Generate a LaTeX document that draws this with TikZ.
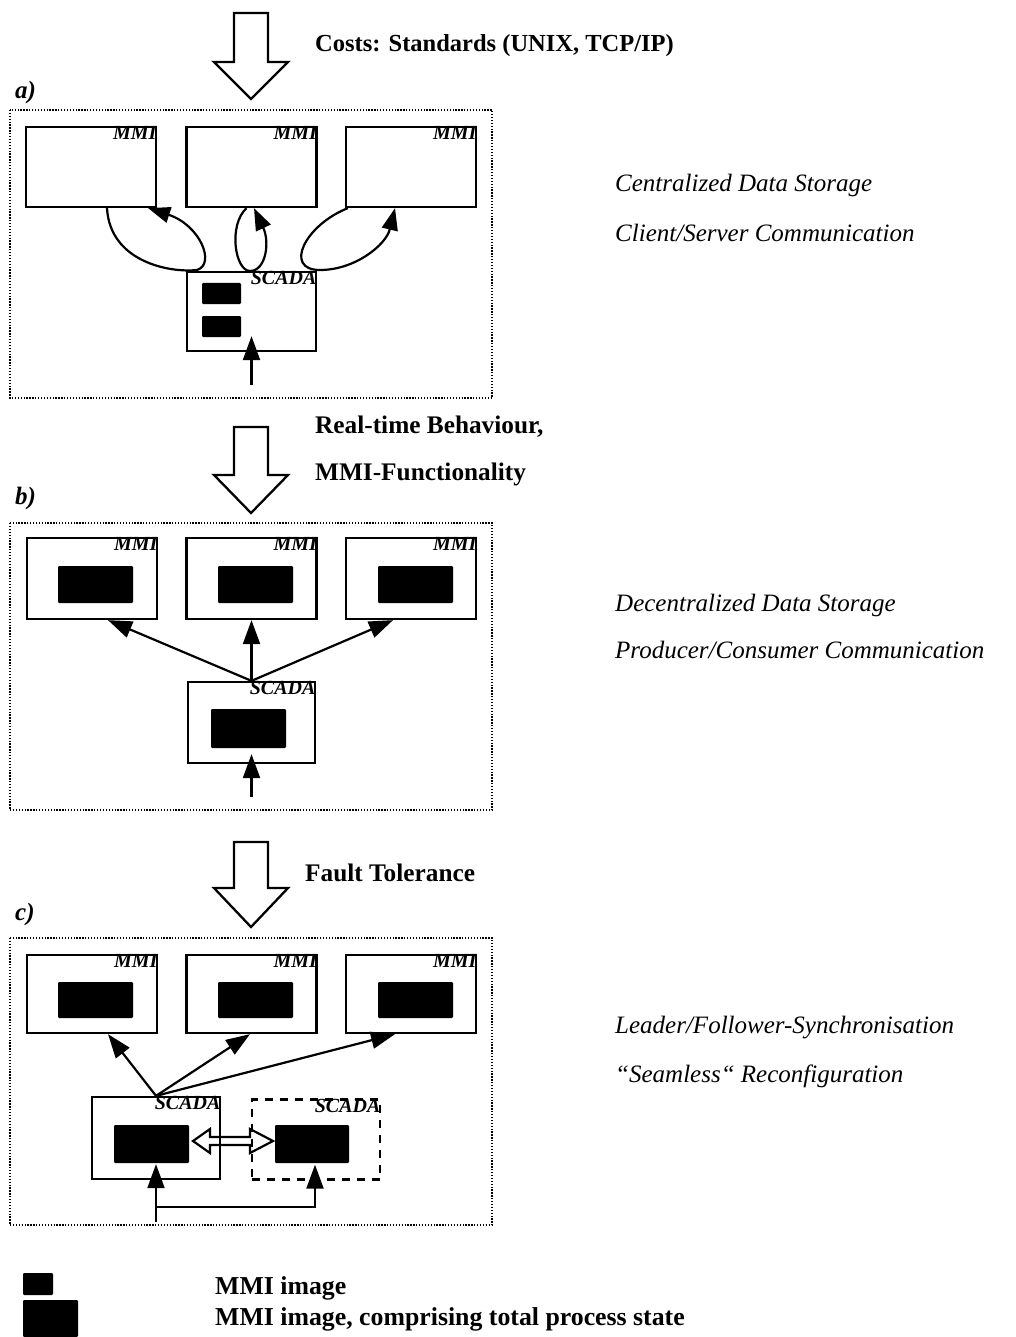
\documentclass[tikz,border=0pt]{standalone}
\usepackage{fontspec}
\setmainfont{Liberation Serif}
\usetikzlibrary{arrows.meta}
\begin{document}
\begin{tikzpicture}[x=1pt,y=-1pt,
  mmibox/.style={draw, line width=2.3pt, rectangle, inner sep=0pt, minimum width=130pt, minimum height=80pt},
  scadabox/.style={mmibox, minimum width=128pt, minimum height=80pt},
  img/.style={fill=black, rounded corners=1.2pt, inner sep=0pt, minimum width=75pt, minimum height=37pt},
  smallimg/.style={img, minimum width=39pt, minimum height=21pt},
  tag/.style={font=\fontsize{20}{21}\selectfont\bfseries\itshape, inner sep=0.5pt, anchor=north east},
  panel/.style={draw, line width=1.6pt, dash pattern=on 1.3pt off 1.6pt},
  bigarrow/.style={draw, line width=2.3pt, fill=white, line join=miter},
  conn/.style={line width=2.2pt, -{Triangle[length=24pt,width=17pt]}},
  loopconn/.style={line width=2.2pt, -{Triangle[length=22pt,width=16pt]}},
  head/.style={font=\fontsize{24.5}{28}\selectfont\bfseries, inner sep=0pt, anchor=base west},
  headb/.style={head, font=\fontsize{25.3}{28}\selectfont\bfseries},
  side/.style={font=\fontsize{25}{28}\selectfont\itshape, inner sep=0pt, anchor=base west},
  plabel/.style={font=\fontsize{25}{28}\selectfont\bfseries\itshape, inner sep=0pt, anchor=base west},
  legtext/.style={font=\fontsize{25.8}{28}\selectfont\bfseries, inner sep=0pt, anchor=base west}
]
\useasboundingbox (0,0) rectangle (1015,1337);

% ================= panel a =================
\draw[bigarrow] (234,13) -- (268,13) -- (268,62) -- (288,62) -- (251,99) -- (214,62) -- (234,62) -- cycle;
\node[head] (ta) at (315,52) {Costs: Standards (UNIX, TCP/IP)};
\node[plabel] (la) at (15,99) {a)};
\draw[panel] (10,110) rectangle (492,398);

\node[mmibox] (a1) at (91,167) {};
\node[mmibox] (a2) at (251.5,167) {};
\node[mmibox] (a3) at (411,167) {};
\node[tag] at (a1.north east) {MMI};
\node[tag] at (a2.north east) {MMI};
\node[tag] at (a3.north east) {MMI};

\node[scadabox, minimum width=129pt, minimum height=79pt] (as) at (251.5,311.5) {};
\node[tag] at (as.north east) {SCADA};
\node[smallimg] (ai1) at (221.5,293.5) {};
\node[smallimg] (ai2) at (221.5,326.5) {};

\draw[loopconn] ([xshift=16pt]a1.south) .. controls (110,262) and (170,273) .. (197,270)
   .. controls (216,264) and (200,225) .. ([xshift=-9pt]a1.south east);
\draw[loopconn] ([xshift=-5pt]a2.south) .. controls (228,225) and (235,271) .. (250,271)
   .. controls (266,271) and (270,242) .. ([xshift=2.5pt]a2.south);
\draw[loopconn] ([xshift=3pt]a3.south west) .. controls (305,225) and (283,270) .. (320,270)
   .. controls (355,270) and (386,245) .. ([xshift=-16pt]a3.south);

\coordinate (ain) at (251.5,385);
\draw[conn] (ain) -- ([yshift=16pt]as.south);

\node[side] (sa1) at (615,192) {Centralized Data Storage};
\node[side] (sa2) at (615,242) {Client/Server Communication};

% ================= panel b =================
\draw[bigarrow] (234,427) -- (268,427) -- (268,475) -- (288,475) -- (251,513) -- (214,475) -- (234,475) -- cycle;
\node[headb] (tb1) at (315,433) {Real-time Behaviour,};
\node[headb] (tb2) at (315,480) {MMI-Functionality};
\node[plabel] (lb) at (15,504) {b)};
\draw[panel] (10,523) rectangle (492,810);

\node[mmibox, minimum height=81pt] (b1) at (92,578.5) {};
\node[mmibox, minimum height=81pt] (b2) at (251.5,578.5) {};
\node[mmibox, minimum height=81pt] (b3) at (411,578.5) {};
\node[tag] at (b1.north east) {MMI};
\node[tag] at (b2.north east) {MMI};
\node[tag] at (b3.north east) {MMI};
\node[img] (bi1) at (95.5,584.5) {};
\node[img] (bi2) at (255.5,584.5) {};
\node[img] (bi3) at (415.5,584.5) {};

\node[scadabox, minimum width=127pt, minimum height=81pt] (bs) at (251.5,722.5) {};
\node[tag] at (bs.north east) {SCADA};
\node[img, minimum height=39pt] (bsi) at (248.5,728.5) {};

\draw[conn] (bs.north) -- ([xshift=16pt]b1.south);
\draw[conn] (bs.north) -- (b2.south);
\draw[conn] (bs.north) -- ([xshift=-18pt]b3.south);
\coordinate (bin) at (251.5,797);
\draw[conn] (bin) -- ([yshift=10pt]bs.south);

\node[side] (sb1) at (615,611) {Decentralized Data Storage};
\node[side] (sb2) at (615,658) {Producer/Consumer Communication};

% ================= panel c =================
\draw[bigarrow] (234,842) -- (268,842) -- (268,888) -- (288,888) -- (251,927) -- (214,888) -- (234,888) -- cycle;
\node[headb] (tc) at (305,881) {Fault Tolerance};
\node[plabel] (lc) at (15,920) {c)};
\draw[panel] (10,938) rectangle (492,1225);

\node[mmibox, minimum height=78pt] (c1) at (92,994) {};
\node[mmibox, minimum height=78pt] (c2) at (251.5,994) {};
\node[mmibox, minimum height=78pt] (c3) at (411,994) {};
\node[tag] at (c1.north east) {MMI};
\node[tag] at (c2.north east) {MMI};
\node[tag] at (c3.north east) {MMI};
\node[img, minimum height=36pt] (ci1) at (95.5,1000) {};
\node[img, minimum height=36pt] (ci2) at (255.5,1000) {};
\node[img, minimum height=36pt] (ci3) at (415.5,1000) {};

% hollow double arrow between the two SCADA images
\draw[line width=2.2pt, fill=white, line join=miter]
  (193,1141) -- (210,1129) -- (210,1137) -- (250,1137) -- (250,1129) -- (273,1141)
  -- (250,1153) -- (250,1145) -- (210,1145) -- (210,1153) -- cycle;

\node[scadabox, minimum width=128pt, minimum height=82pt] (s1) at (156,1138) {};
\node[tag] at (s1.north east) {SCADA};
\node[img, minimum height=38pt] (s1i) at (151.5,1144) {};
\node[scadabox, minimum width=128pt, minimum height=80pt, dash pattern=on 8pt off 7pt] (s2) at (316,1139.5) {};
\node[tag] at (s2.north east) {SCADA};
\node[img, minimum width=74pt, minimum height=38pt] (s2i) at (312,1144) {};

\draw[conn] (s1.north) -- ([xshift=16pt]c1.south);
\draw[conn] (s1.north) -- ([xshift=-1.5pt]c2.south);
\draw[conn] (s1.north) -- ([xshift=-16pt]c3.south);

\coordinate (cin) at (156,1222);
\coordinate (cj) at (156,1207);
\draw[conn] (cin) -- ([yshift=16pt]s1.south);
\draw[conn] (cj) -| ([yshift=16pt,xshift=-1pt]s2.south);

\node[side] (sc1) at (615,1033) {Leader/Follower-Synchronisation};
\node[side] (sc2) at (615,1082) {“Seamless“ Reconfiguration};

% ================= legend =================
\node[smallimg, minimum width=30pt, minimum height=22pt] (lg1) at (38,1284) {};
\node[img, minimum width=55pt, minimum height=37pt] (lg2) at (50.5,1318.5) {};
\node[legtext] (lt1) at (215,1294) {MMI image};
\node[legtext] (lt2) at (215,1325) {MMI image, comprising total process state};
\end{tikzpicture}
\end{document}
